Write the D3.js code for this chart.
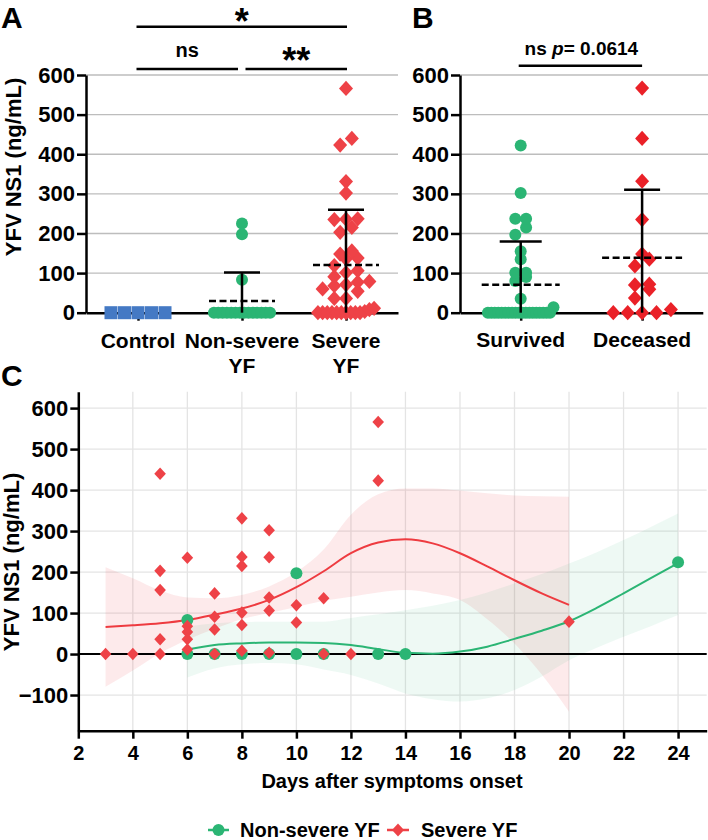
<!DOCTYPE html>
<html>
<head>
<meta charset="utf-8">
<script src="https://cdn.jsdelivr.net/npm/d3@7"></script>
<style>
  body { margin: 0; background: #fff; }
  text { font-family: "Liberation Sans", Arial, sans-serif; font-weight: bold; }
</style>
</head>
<body>
<svg id="fig"></svg>
<script>
// ---------- data ----------
// panel A : NS1 by clinical group
const groupsA = ["Control", "Non-severe YF", "Severe YF"];
const labelsA = [["Control"], ["Non-severe", "YF"], ["Severe", "YF"]];
const controlVals = [0, 0, 0, 0, 0];
const nonSevereVals = [225, 198, 83, 0, 0, 0, 0, 0, 0, 0, 0, 0, 0, 0, 0, 0, 0];
const severeVals = [566, 440, 423, 331, 302, 237, 236, 235, 215, 203, 156, 148, 138, 136, 119,
  106, 101, 91, 79, 77, 71, 68, 60, 54, 36, 36, 11, 8, 3, 0, 0, 0, 0, 0, 0, 0, 0, 0, 0];

// panel B : NS1 by outcome
const groupsB = ["Survived", "Deceased"];
const survivedVals = [422, 302, 237, 237, 215, 197, 155, 135, 101, 101, 90, 80, 35, 14,
  0, 0, 0, 0, 0, 0, 0, 0, 0, 0, 0, 0, 0, 0, 0, 0, 0, 0, 0];
const deceasedVals = [567, 440, 332, 235, 148, 135, 118, 72, 70, 59, 37, 8, 0, 0, 0, 0];
const yTicksAB = [0, 100, 200, 300, 400, 500, 600];

// significance brackets
const sigA = [
  { from: "Control", to: "Severe YF", label: "*", level: 0 },
  { from: "Control", to: "Non-severe YF", label: "ns", level: 1 },
  { from: "Non-severe YF", to: "Severe YF", label: "**", level: 1 }
];

// panel C : NS1 against days after onset
const nsDays = [6, 6, 7, 8, 9, 10, 10, 11, 13, 14, 24];
const nsVals = [83, 0, 0, 0, 0, 197, 0, 0, 0, 0, 224];
const sevDays = [3, 4, 5, 5, 5, 5, 5, 6, 6, 6, 6, 6, 7, 7, 7, 7, 8, 8, 8, 8, 8, 8,
  9, 9, 9, 9, 9, 10, 10, 11, 11, 12, 13, 13, 20];
const sevVals = [0, 0, 440, 203, 156, 36, 0, 235, 68, 54, 36, 11, 148, 91, 60, 0, 331, 237, 215, 101, 71, 8,
  302, 236, 138, 106, 3, 119, 77, 136, 0, 0, 566, 423, 79];

// smoothed fits + confidence bands (traced)
const fitDaysSev = [3, 4, 5, 6, 7, 8, 9, 10, 11, 12, 13, 14, 15, 16, 17, 18, 19, 20];
const fitSev = [66, 70, 75, 83, 96, 111, 132, 163, 202, 246, 272, 280, 270, 246, 214, 180, 148, 120];
const hiSev = [212, 185, 155, 138, 136, 144, 165, 200, 255, 340, 390, 404, 404, 399, 392, 387, 385, 384];
const loSev = [-80, -40, 2, 35, 62, 85, 100, 115, 130, 140, 150, 156, 148, 132, 85, 26, -50, -141];

const fitDaysNs = [6, 7, 8, 9, 10, 11, 12, 13, 14, 15, 16, 17, 18, 19, 20, 21, 22, 23, 24];
const fitNs = [11, 22, 26, 28, 28, 27, 22, 12, 3, 1, 6, 18, 37, 57, 80, 112, 148, 185, 222];
const hiNs = [67, 75, 78, 79, 79, 79, 88, 97, 107, 118, 132, 150, 172, 195, 221, 248, 278, 310, 343];
const loNs = [-57, -35, -25, -22, -25, -38, -51, -72, -96, -110, -116, -108, -88, -55, -15, 15, 42, 68, 95];

const yTicksC = [-100, 0, 100, 200, 300, 400, 500, 600];
const dayTicks = [2, 4, 6, 8, 10, 12, 14, 16, 18, 20, 22, 24];

// colours
const GREEN = "#2BB574";
const RED = "#EE4247";
const RED_B = "#EA2128";
const BLUE = "#4479C4";

const svg = d3.select("#fig").attr("width", 708).attr("height", 840);

// diamond marker
function diamond(w, h) {
  return `M0,${-h}L${w},0L0,${h}L${-w},0Z`;
}

// GraphPad-like scatter: rows of near-equal values spread sideways
function swarm(vals, y, cx, size, maxHalf) {
  const pts = vals.map(v => ({ v: v, y: y(v) })).sort((a, b) => b.y - a.y);
  const rows = [];
  pts.forEach(p => {
    const row = rows[rows.length - 1];
    if (row && row[0].y - p.y < size * 0.62) row.push(p);
    else rows.push([p]);
  });
  rows.forEach(row => {
    const n = row.length;
    const step = n > 1 ? Math.min(size * 0.9, 2 * maxHalf / (n - 1)) : 0;
    row.forEach((p, i) => { p.x = cx + (i - (n - 1) / 2) * step; });
  });
  return pts;
}

function styleAxis(a, fs) {
  a.attr("font-size", fs);
  a.selectAll("path, line").attr("stroke", "#000").attr("stroke-width", 2.5);
  a.selectAll("text").attr("fill", "#000");
}

// grid, y axis and category axis of a dot panel
function dotAxes(x, y, gridRight, axisRight) {
  const left = x.range()[0];
  svg.append("g").selectAll("line")
    .data(yTicksAB.filter(d => d > 0))
    .join("line")
    .attr("x1", left).attr("x2", gridRight)
    .attr("y1", d => y(d)).attr("y2", d => y(d))
    .attr("stroke", "#BDBDBD").attr("stroke-width", 1.4);

  const ya = svg.append("g")
    .attr("transform", `translate(${left},0)`)
    .call(d3.axisLeft(y).tickValues(yTicksAB).tickSize(9).tickSizeOuter(0).tickPadding(2));
  styleAxis(ya, 22);

  const xa = svg.append("g")
    .attr("transform", `translate(0,${y(0)})`)
    .call(d3.axisBottom(x.copy().range([left, axisRight])).tickSize(8).tickSizeOuter(0).tickFormat(""));
  styleAxis(xa, 21);
}

// mean (dashed) + SD bar
function meanSd(vals, cx, y, halfMean, halfCap) {
  const m = d3.mean(vals);
  const s = d3.deviation(vals);
  const g = svg.append("g").attr("stroke", "#000").attr("stroke-width", 2.5);
  g.append("line")
    .attr("x1", cx - halfMean).attr("x2", cx + halfMean)
    .attr("y1", y(m)).attr("y2", y(m))
    .attr("stroke-dasharray", "7,3.5");
  if (s > 0) {
    g.append("line")
      .attr("x1", cx).attr("x2", cx)
      .attr("y1", y(Math.max(0, m - s))).attr("y2", y(m + s));
    g.append("line")
      .attr("x1", cx - halfCap).attr("x2", cx + halfCap)
      .attr("y1", y(m + s)).attr("y2", y(m + s));
  }
}

// ================= Panel A =================
const yA = d3.scaleLinear().domain([0, 600]).range([312.7, 75]);
const xA = d3.scalePoint().domain(groupsA).range([86, 398]).padding(0.5);
dotAxes(xA, yA, 398, 398);

const halfA = xA.step() * 0.27;
// control squares
svg.append("g").selectAll("rect")
  .data(swarm(controlVals, yA, xA("Control"), 15, halfA))
  .join("rect")
  .attr("x", d => d.x - 6.5).attr("y", d => d.y - 6.5)
  .attr("width", 13).attr("height", 13)
  .attr("fill", BLUE);
// non-severe circles
svg.append("g").selectAll("circle")
  .data(swarm(nonSevereVals, yA, xA("Non-severe YF"), 12, halfA))
  .join("circle")
  .attr("cx", d => d.x).attr("cy", d => d.y).attr("r", 6)
  .attr("fill", GREEN);
// severe diamonds
svg.append("g").selectAll("path")
  .data(swarm(severeVals, yA, xA("Severe YF"), 13, halfA))
  .join("path")
  .attr("d", diamond(7, 7.6))
  .attr("transform", d => `translate(${d.x},${d.y})`)
  .attr("fill", RED);

meanSd(nonSevereVals, xA("Non-severe YF"), yA, 33, 18);
meanSd(severeVals, xA("Severe YF"), yA, 33, 18);

// category labels
svg.append("g").selectAll("text")
  .data(groupsA)
  .join("text")
  .attr("text-anchor", "middle")
  .attr("font-size", 21)
  .attr("x", d => xA(d))
  .attr("y", 348)
  .each(function(d, i) {
    d3.select(this).selectAll("tspan")
      .data(labelsA[i])
      .join("tspan")
      .attr("x", xA(d))
      .attr("dy", (t, j) => j === 0 ? 0 : 25)
      .text(t => t);
  });

// y title
svg.append("text")
  .attr("transform", "translate(21,167) rotate(-90)")
  .attr("text-anchor", "middle")
  .attr("font-size", 22)
  .text("YFV NS1 (ng/mL)");

// significance brackets
const sigY = [26.7, 69];
sigA.forEach(s => {
  const x1 = xA(s.from) + (s.from === "Non-severe YF" ? 3.5 : -1.5);
  const x2 = xA(s.to) + (s.to === "Non-severe YF" ? -4 : 1);
  svg.append("line")
    .attr("x1", x1).attr("x2", x2)
    .attr("y1", sigY[s.level]).attr("y2", sigY[s.level])
    .attr("stroke", "#000").attr("stroke-width", 2.5);
  const isStar = s.label.indexOf("*") >= 0;
  svg.append("text")
    .attr("x", (x1 + x2) / 2)
    .attr("y", isStar ? sigY[s.level] + (s.level === 0 ? 7 : 4) : sigY[s.level] - 12.5)
    .attr("text-anchor", "middle")
    .attr("font-size", isStar ? 36 : 20)
    .text(s.label);
});

// ================= Panel B =================
const yB = d3.scaleLinear().domain([0, 600]).range([312.7, 75]);
const xB = d3.scalePoint().domain(groupsB).range([460, 702.8]).padding(0.5);
dotAxes(xB, yB, 708, 702.8);

const halfB = xB.step() * 0.27;
svg.append("g").selectAll("circle")
  .data(swarm(survivedVals, yB, xB("Survived"), 12, halfB))
  .join("circle")
  .attr("cx", d => d.x).attr("cy", d => d.y).attr("r", 6)
  .attr("fill", GREEN);
svg.append("g").selectAll("path")
  .data(swarm(deceasedVals, yB, xB("Deceased"), 16, halfB))
  .join("path")
  .attr("d", diamond(7, 7.6))
  .attr("transform", d => `translate(${d.x},${d.y})`)
  .attr("fill", RED_B);

meanSd(survivedVals, xB("Survived"), yB, 39, 21);
meanSd(deceasedVals, xB("Deceased"), yB, 40, 18);

svg.append("g").selectAll("text")
  .data(groupsB)
  .join("text")
  .attr("text-anchor", "middle")
  .attr("font-size", 21)
  .attr("x", d => xB(d))
  .attr("y", 347)
  .text(d => d);

// bracket
svg.append("line")
  .attr("x1", xB("Survived") - 2).attr("x2", xB("Deceased"))
  .attr("y1", 65.7).attr("y2", 65.7)
  .attr("stroke", "#000").attr("stroke-width", 2.5);
const pText = svg.append("text")
  .attr("x", (xB("Survived") + xB("Deceased")) / 2)
  .attr("y", 55)
  .attr("text-anchor", "middle")
  .attr("font-size", 19);
pText.append("tspan").text("ns ");
pText.append("tspan").attr("font-style", "italic").text("p");
pText.append("tspan").text("= 0.0614");

// ================= Panel C =================
const xC = d3.scaleLinear().domain([2, 25.05]).range([78.3, 706.7]);
const yC = d3.scaleLinear().domain([-187, 640]).range([730.7, 391.7]);

// light grid
const gridC = svg.append("g").attr("stroke", "#E4E4E4").attr("stroke-width", 1.3);
gridC.selectAll(".v")
  .data(dayTicks.filter(d => d > 2))
  .join("line")
  .attr("x1", d => xC(d)).attr("x2", d => xC(d))
  .attr("y1", yC.range()[1]).attr("y2", yC.range()[0]);
gridC.selectAll(".h")
  .data(yTicksC.filter(d => d !== 0))
  .join("line")
  .attr("x1", xC.range()[0]).attr("x2", xC.range()[1])
  .attr("y1", d => yC(d)).attr("y2", d => yC(d));

// confidence bands
const bandSev = fitDaysSev.map((d, i) => ({ day: d, fit: fitSev[i], lo: loSev[i], hi: hiSev[i] }));
const bandNs = fitDaysNs.map((d, i) => ({ day: d, fit: fitNs[i], lo: loNs[i], hi: hiNs[i] }));
const area = d3.area()
  .x(d => xC(d.day))
  .y0(d => yC(d.lo))
  .y1(d => yC(d.hi))
  .curve(d3.curveMonotoneX);
const fitLine = d3.line()
  .x(d => xC(d.day))
  .y(d => yC(d.fit))
  .curve(d3.curveMonotoneX);

svg.append("path").attr("d", area(bandSev)).attr("fill", "#E8303A").attr("opacity", 0.1);
svg.append("path").attr("d", area(bandNs)).attr("fill", GREEN).attr("opacity", 0.08);

// zero line
svg.append("line")
  .attr("x1", xC.range()[0]).attr("x2", xC.range()[1])
  .attr("y1", yC(0)).attr("y2", yC(0))
  .attr("stroke", "#000").attr("stroke-width", 2);

svg.append("path").attr("d", fitLine(bandSev))
  .attr("fill", "none").attr("stroke", "#EE3B40").attr("stroke-width", 2);
svg.append("path").attr("d", fitLine(bandNs))
  .attr("fill", "none").attr("stroke", GREEN).attr("stroke-width", 2);

// axes
const yaC = svg.append("g")
  .attr("transform", `translate(${xC.range()[0]},0)`)
  .call(d3.axisLeft(yC).tickValues(yTicksC).tickSize(8).tickSizeOuter(0).tickPadding(2));
styleAxis(yaC, 22);
const xaC = svg.append("g")
  .attr("transform", `translate(0,${yC.range()[0]})`)
  .call(d3.axisBottom(xC).tickValues(dayTicks).tickSize(8).tickSizeOuter(0).tickPadding(7));
styleAxis(xaC, 20);

// points
svg.append("g").selectAll("circle")
  .data(nsDays.map((d, i) => ({ day: d, v: nsVals[i] })))
  .join("circle")
  .attr("cx", d => xC(d.day)).attr("cy", d => yC(d.v)).attr("r", 6)
  .attr("fill", GREEN);
svg.append("g").selectAll("path")
  .data(sevDays.map((d, i) => ({ day: d, v: sevVals[i] })))
  .join("path")
  .attr("d", diamond(5.8, 6.3))
  .attr("transform", d => `translate(${xC(d.day)},${yC(d.v)})`)
  .attr("fill", RED);

// titles
svg.append("text")
  .attr("transform", "translate(19,562) rotate(-90)")
  .attr("text-anchor", "middle")
  .attr("font-size", 22)
  .text("YFV NS1 (ng/mL)");
svg.append("text")
  .attr("x", 392).attr("y", 788)
  .attr("text-anchor", "middle")
  .attr("font-size", 20)
  .text("Days after symptoms onset");

// legend
const legend = svg.append("g").attr("transform", "translate(0,830)");
legend.append("line").attr("x1", 208).attr("x2", 229).attr("stroke", GREEN).attr("stroke-width", 2.5);
legend.append("circle").attr("cx", 218.5).attr("r", 6).attr("fill", GREEN);
legend.append("text").attr("x", 240).attr("y", 7).attr("font-size", 20).text("Non-severe YF");
legend.append("line").attr("x1", 387).attr("x2", 409).attr("stroke", RED).attr("stroke-width", 2.5);
legend.append("path").attr("d", diamond(6, 6.5)).attr("transform", "translate(398,0)").attr("fill", RED);
legend.append("text").attr("x", 421).attr("y", 7).attr("font-size", 20).text("Severe YF");

// panel letters
svg.append("text").attr("x", 1).attr("y", 28).attr("font-size", 30).text("A");
svg.append("text").attr("x", 412).attr("y", 28).attr("font-size", 30).text("B");
svg.append("text").attr("x", 1).attr("y", 386).attr("font-size", 30).text("C");
</script>
</body>
</html>
